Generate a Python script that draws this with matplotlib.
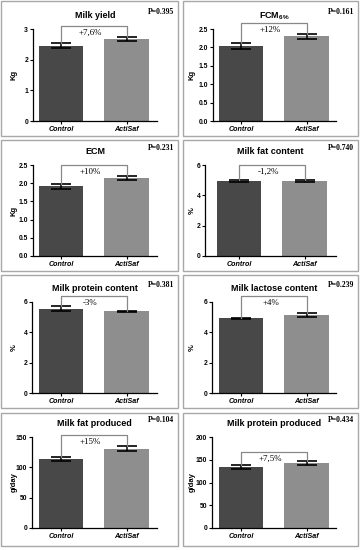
import matplotlib
matplotlib.use('Agg')
import matplotlib.pyplot as plt
from matplotlib.patches import Rectangle
import numpy as np

plt.rcParams['font.family'] = 'Liberation Sans'
plt.rcParams['mathtext.fontset'] = 'custom'
plt.rcParams['mathtext.rm'] = 'Liberation Sans:bold'
plt.rcParams['mathtext.bf'] = 'Liberation Sans:bold'

# data
groups = ['Control', 'ActiSaf']
titles = ['Milk yield', r'FCM$_{\mathbf{6\%}}$', 'ECM', 'Milk fat content',
          'Milk protein content', 'Milk lactose content',
          'Milk fat produced', 'Milk protein produced']
units = ['Kg', 'Kg', 'Kg', '%', '%', '%', 'g/day', 'g/day']
control_mean = [2.45, 2.04, 1.91, 4.96, 5.56, 4.94, 113.7, 133.3]
control_err = [0.08, 0.07, 0.07, 0.08, 0.15, 0.03, 3.6, 4.5]
actisaf_mean = [2.68, 2.30, 2.15, 4.96, 5.38, 5.14, 130.8, 143.5]
actisaf_err = [0.07, 0.07, 0.06, 0.07, 0.03, 0.12, 4.0, 4.0]
p_values = ['0.395', '0.161', '0.231', '0.740', '0.381', '0.239', '0.104', '0.434']
changes = ['+7,6%', '+12%', '+10%', '-1,2%', '-3%', '+4%', '+15%', '+7,5%']
y_max = [3, 2.5, 2.5, 6, 6, 6, 150, 200]
y_step = [1, 0.5, 0.5, 2, 2, 2, 50, 50]
y_fmt = ['%d', '%.1f', '%.1f', '%d', '%d', '%d', '%d', '%d']
bracket_y = [3.09, 2.67, 2.5, 6.0, 6.37, 6.37, 153, 168]

# layout in pixels
W, H = 361, 550
box_x = [(1, 178), (183, 358)]
box_y = [(1, 136), (140, 271), (275, 408), (413, 546)]
ax_top = [29, 165, 302, 437]
ax_bot = [121, 256, 393, 528]
ax_left = [33, 213, 33, 205, 32, 212, 32, 212]
ax_right = [157, 336]
c0 = [61, 241, 61, 239, 61, 241, 61, 241]
unit_px = 65.5
ylab_x = [14, 192]

fig = plt.figure(figsize=(W / 100, H / 100), dpi=100)

for i in range(8):
    r, c = divmod(i, 2)
    # panel frame
    x0, x1 = box_x[c]
    y0, y1 = box_y[r]
    fig.patches.append(Rectangle((x0 / W, 1 - y1 / H), (x1 - x0) / W, (y1 - y0) / H,
                                 transform=fig.transFigure, fill=False,
                                 edgecolor='#a8a8a8', linewidth=1.0))

    left, right = ax_left[i], ax_right[c]
    ax = fig.add_axes([left / W, 1 - ax_bot[r] / H, (right - left) / W,
                       (ax_bot[r] - ax_top[r]) / H])
    means = [control_mean[i], actisaf_mean[i]]
    errs = [control_err[i], actisaf_err[i]]
    x = np.arange(2)
    ax.bar(x, means, width=0.68, color=['#484848', '#8e8e8e'], zorder=2)
    ax.errorbar(x, means, yerr=errs, fmt='none', ecolor='black',
                elinewidth=1.1, capsize=7.5, capthick=1.2, zorder=3)

    # significance bracket
    by = bracket_y[i]
    ax.plot([0, 0, 1, 1], [means[0] + errs[0], by, by, means[1] + errs[1]],
            color='#888888', linewidth=0.9, clip_on=False, zorder=4)
    ax.annotate(changes[i], xy=(0.45, by), xytext=(0, -5), textcoords='offset points',
                ha='center', va='center', fontsize=6.4, family='Liberation Serif',
                annotation_clip=False, zorder=5)

    ax.set_xlim((left - c0[i]) / unit_px, (right - c0[i]) / unit_px)
    ax.set_ylim(0, y_max[i])
    ticks = np.arange(0, y_max[i] + y_step[i] / 2, y_step[i])
    ax.set_yticks(ticks)
    ax.set_yticklabels([y_fmt[i] % t for t in ticks], fontsize=4.9, fontweight='bold')
    ax.set_xticks(x)
    ax.set_xticklabels(groups, fontsize=5.1, fontweight='bold', fontstyle='italic')
    ax.tick_params(axis='y', length=2.5, width=0.8, pad=1)
    ax.tick_params(axis='x', length=2, width=0.8, pad=1.5)
    for s in ['top', 'right']:
        ax.spines[s].set_visible(False)
    for s in ['left', 'bottom']:
        ax.spines[s].set_linewidth(0.9)

    ax.annotate(titles[i], xy=(0.5, 1), xycoords='axes fraction', xytext=(0, 9.5),
                textcoords='offset points', ha='center', va='center',
                fontsize=6.5, fontweight='bold')
    fig.text((x1 - 4) / W, 1 - (ax_top[r] - 17) / H, 'P=' + p_values[i],
             ha='right', va='center', fontsize=5.5, fontweight='bold',
             family='Liberation Serif')
    fig.text(ylab_x[c] / W, 1 - (ax_top[r] + ax_bot[r]) / 2 / H, units[i],
             rotation=90, ha='center', va='center', fontsize=5.5, fontweight='bold')

fig.savefig('out.png', dpi=100)
